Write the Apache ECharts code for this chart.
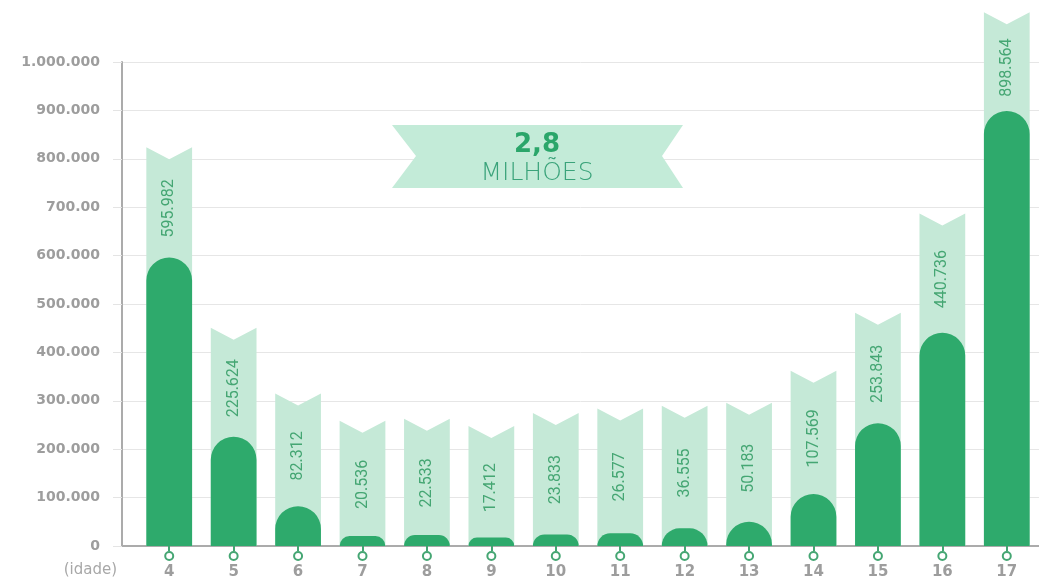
<!DOCTYPE html>
<html>
<head>
<meta charset="utf-8">
<script src="https://cdn.jsdelivr.net/npm/echarts@6/dist/echarts.min.js"></script>
<style>
  html, body { margin: 0; padding: 0; background: #ffffff; }
  #chart { width: 1039px; height: 581px; }
</style>
</head>
<body>
<div id="chart"></div>
<script>
// Crianças e adolescentes fora da escola, por idade
const ages = ['4', '5', '6', '7', '8', '9', '10', '11', '12', '13', '14', '15', '16', '17'];
const population = [595982, 225624, 82312, 20536, 22533, 17412, 23833, 26577, 36555, 50183, 107569, 253843, 440736, 898564];
// height of the light ribbon behind each bar
const ribbonTops = [824000, 451000, 315000, 259000, 263000, 248000, 275000, 284000, 290000, 296000, 362000, 482000, 687000, 1103000];
const yTickLabels = ['0', '100.000', '200.000', '300.000', '400.000', '500.000', '600.000', '700.00', '800.000', '900.000', '1.000.000'];
const totalValue = '2,8';
const totalUnit = 'MILHÕES';
const xAxisName = '(idade)';

const BAR = '#2eaa6c';
const RIBBON = '#c5e9d7';
const LABEL = '#45a673';
const GREY = '#9d9d9d';
const BAR_RATIO = 0.71;
const NOTCH = 12;

const fmt = v => String(Math.round(v)).replace(/\B(?=(\d{3})+(?!\d))/g, '.');

const ribbonData = ages.map((_, i) => [i, ribbonTops[i], population[i]]);

const chart = echarts.init(document.getElementById('chart'), null, { renderer: 'canvas' });

chart.setOption({
  animation: false,
  backgroundColor: '#ffffff',
  grid: [
    { left: 137, width: 912, top: 62, bottom: 35 },
    { left: 122, right: 0, top: 62, bottom: 35 }
  ],
  xAxis: [
    {
      type: 'category',
      gridIndex: 0,
      data: ages,
      axisLine: { show: false },
      axisTick: { show: true, alignWithLabel: true, length: 5, lineStyle: { color: LABEL, width: 2 } },
      axisLabel: {
        margin: 19,
        color: GREY,
        fontFamily: 'DejaVu Sans',
        fontWeight: 'bold',
        fontSize: 15
      },
      name: xAxisName,
      nameLocation: 'start',
      nameGap: 20,
      nameTextStyle: {
        color: '#a8a8a8',
        fontFamily: 'DejaVu Sans',
        fontSize: 15,
        align: 'right',
        verticalAlign: 'top',
        padding: [17, 0, 0, 0]
      }
    },
    {
      type: 'value',
      gridIndex: 1,
      min: 0,
      max: 1,
      axisLine: { show: true, lineStyle: { color: '#ababab', width: 2 } },
      axisTick: { show: false },
      axisLabel: { show: false },
      splitLine: { show: false }
    }
  ],
  yAxis: [
    {
      type: 'value',
      gridIndex: 0,
      min: 0,
      max: 1000000,
      interval: 100000,
      show: false
    },
    {
      type: 'value',
      gridIndex: 1,
      min: 0,
      max: 1000000,
      interval: 100000,
      axisLine: { show: true, lineStyle: { color: '#ababab', width: 2 } },
      axisTick: { show: true, length: 9, lineStyle: { color: '#e4e4e4' } },
      splitLine: { show: true, lineStyle: { color: '#e6e6e6', width: 1 } },
      axisLabel: {
        margin: 22,
        color: GREY,
        fontFamily: 'DejaVu Sans',
        fontWeight: 'bold',
        fontSize: 14,
        formatter: v => yTickLabels[Math.round(v / 100000)]
      }
    }
  ],
  series: [
    {
      type: 'custom',
      xAxisIndex: 0,
      yAxisIndex: 0,
      z: 1,
      silent: true,
      data: ribbonData,
      encode: { x: 0, y: 1 },
      renderItem(params, api) {
        const idx = api.value(0);
        const top = api.coord([idx, api.value(1)]);
        const base = api.coord([idx, 0]);
        const barTop = api.coord([idx, api.value(2)]);
        const w = api.size([1, 0])[0] * BAR_RATIO;
        const cx = top[0];
        const x0 = cx - w / 2;
        const x1 = cx + w / 2;
        const midY = (top[1] + NOTCH + barTop[1]) / 2;
        return {
          type: 'group',
          children: [
            {
              type: 'polygon',
              shape: { points: [[x0, top[1]], [cx, top[1] + NOTCH], [x1, top[1]], [x1, base[1]], [x0, base[1]]] },
              style: { fill: RIBBON }
            },
            {
              type: 'text',
              x: cx,
              y: midY,
              rotation: Math.PI / 2,
              style: {
                text: fmt(api.value(2)),
                align: 'center',
                verticalAlign: 'middle',
                fill: LABEL,
                fontFamily: 'Roboto, sans-serif',
                fontSize: 16
              }
            }
          ]
        };
      }
    },
    {
      type: 'bar',
      xAxisIndex: 0,
      yAxisIndex: 0,
      z: 3,
      data: population,
      barWidth: (BAR_RATIO * 100) + '%',
      itemStyle: { color: BAR, borderRadius: [23, 23, 0, 0] }
    },
    {
      type: 'scatter',
      xAxisIndex: 0,
      yAxisIndex: 0,
      z: 5,
      silent: true,
      clip: false,
      data: ages.map(() => 0),
      symbol: 'circle',
      symbolSize: 8,
      symbolOffset: [0, 10],
      itemStyle: { color: '#ffffff', borderColor: LABEL, borderWidth: 2, opacity: 1 }
    }
  ],
  graphic: [
    {
      type: 'group',
      left: 392,
      top: 125,
      z: 20,
      children: [
        {
          type: 'polygon',
          z: 20,
          shape: { points: [[0, 0], [291, 0], [270, 31], [291, 63], [0, 63], [24, 31]] },
          style: { fill: '#c3ebd8' }
        },
        {
          type: 'text',
          z: 21,
          x: 145,
          y: 20,
          style: {
            text: totalValue,
            align: 'center',
            verticalAlign: 'middle',
            fill: '#2aa66a',
            fontFamily: 'DejaVu Sans',
            fontWeight: 'bold',
            fontSize: 26
          }
        },
        {
          type: 'text',
          z: 21,
          x: 145,
          y: 48,
          style: {
            text: totalUnit,
            align: 'center',
            verticalAlign: 'middle',
            fill: '#3aa37a',
            fontFamily: 'DejaVu Sans',
            fontWeight: 200,
            fontSize: 25
          }
        }
      ]
    }
  ]
});
</script>
</body>
</html>
